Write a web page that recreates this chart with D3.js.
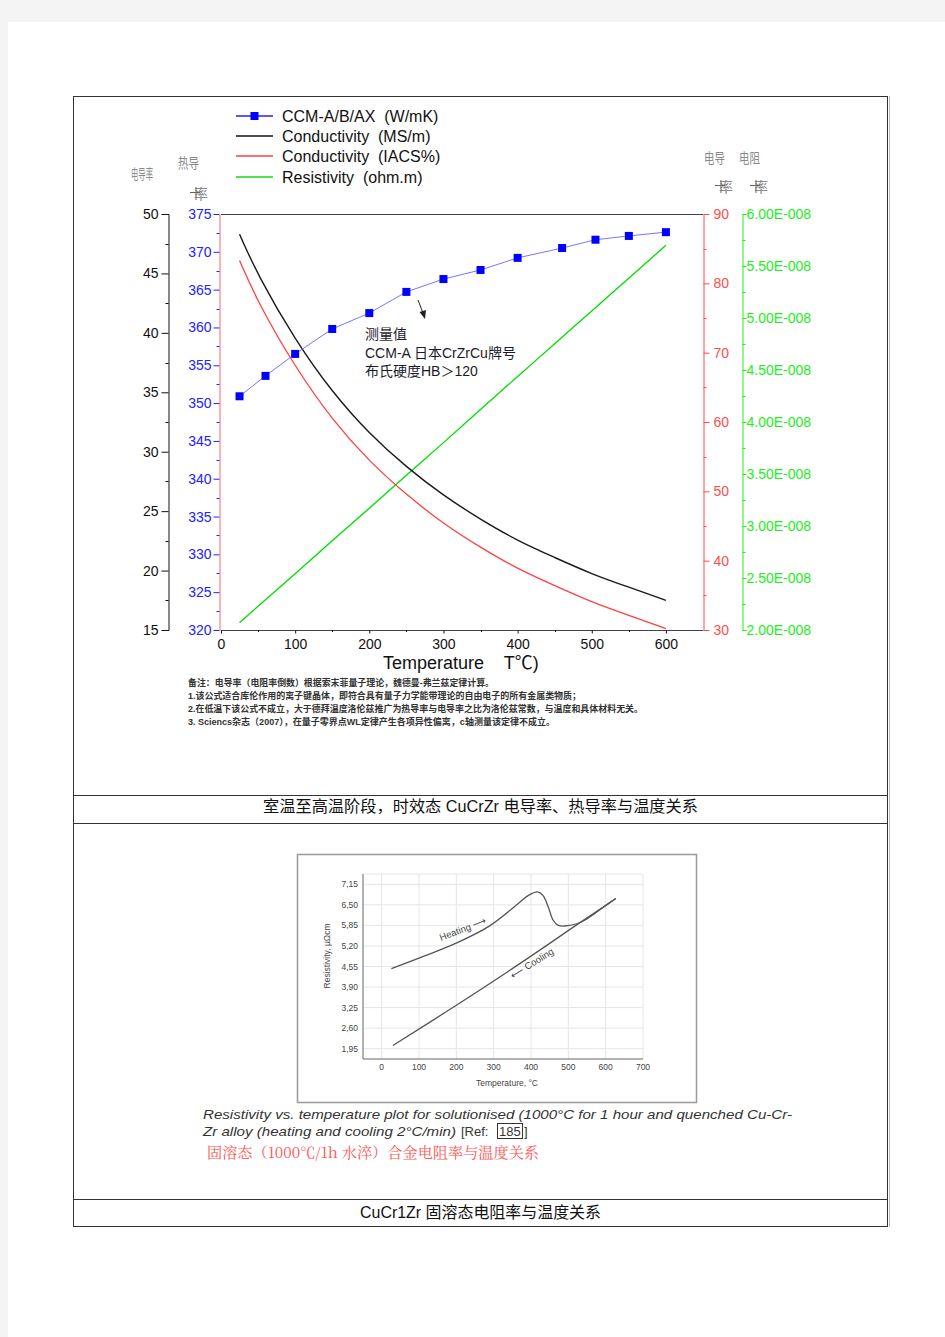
<!DOCTYPE html>
<html><head><meta charset="utf-8">
<script src="https://cdn.jsdelivr.net/npm/d3@7"></script>
<style>
body{margin:0;background:#f4f4f4;}
svg{display:block;}
text{font-family:"Liberation Sans","Noto Sans CJK SC",sans-serif;white-space:pre;}
</style></head><body>
<svg id="c" width="945" height="1337"></svg>
<script>
// ---------- DATA: main chart ----------
const temps = [25, 50, 100, 150, 200, 250, 300, 350, 400, 450, 500, 550, 600];
const condMS = [48.3, 44.8, 39.4, 35.0, 31.5, 28.7, 26.3, 24.3, 22.5, 21.1, 19.7, 18.6, 17.5];
const condIACS = [83.3, 77.2, 67.9, 60.3, 54.3, 49.5, 45.3, 41.9, 38.8, 36.4, 34.0, 32.1, 30.2];
const resist = [2.07e-8, 2.23e-8, 2.54e-8, 2.86e-8, 3.17e-8, 3.49e-8, 3.80e-8, 4.12e-8, 4.44e-8, 4.75e-8, 5.07e-8, 5.38e-8, 5.70e-8];
const ccmTemps = [25, 60, 100, 150, 200, 250, 300, 350, 400, 460, 505, 550, 600];
const ccmVals = [350.9, 353.6, 356.5, 359.8, 361.9, 364.7, 366.4, 367.6, 369.2, 370.5, 371.6, 372.1, 372.6];

const xTicks = [0, 100, 200, 300, 400, 500, 600];
const msTicks = [15, 20, 25, 30, 35, 40, 45, 50];
const wTicks = [320, 325, 330, 335, 340, 345, 350, 355, 360, 365, 370, 375];
const iacsTicks = [30, 40, 50, 60, 70, 80, 90];
const resTicks = [2e-8, 2.5e-8, 3e-8, 3.5e-8, 4e-8, 4.5e-8, 5e-8, 5.5e-8, 6e-8];

const legendLabels = ["CCM-A/B/AX  (W/mK)", "Conductivity  (MS/m)", "Conductivity  (IACS%)", "Resistivity  (ohm.m)"];
const notes = [
 "备注：电导率（电阻率倒数）根据索末菲量子理论，魏德曼-弗兰兹定律计算。",
 "1.该公式适合库伦作用的离子键晶体，即符合具有量子力学能带理论的自由电子的所有金属类物质；",
 "2.在低温下该公式不成立，大于德拜温度洛伦兹推广为热导率与电导率之比为洛伦兹常数，与温度和具体材料无关。",
 "3. Sciencs杂志（2007），在量子零界点WL定律产生各项异性偏离，c轴测量该定律不成立。"
];
const annot = ["测量值", "CCM-A 日本CrZrCu牌号", "布氏硬度HB＞120"];

// ---------- DATA: second chart ----------
const heatT = [26, 110, 198, 286, 366, 393, 417, 432, 446, 459, 472, 490, 525, 552, 596, 627];
const heatR = [4.48, 4.86, 5.28, 5.81, 6.54, 6.80, 6.91, 6.80, 6.44, 6.02, 5.86, 5.83, 5.91, 6.07, 6.44, 6.70];
const coolT = [627, 534, 375, 198, 30];
const coolR = [6.70, 5.96, 4.68, 3.31, 2.05];
const smallXTicks = [0, 100, 200, 300, 400, 500, 600, 700];
const smallYTicks = [1.95, 2.60, 3.25, 3.90, 4.55, 5.20, 5.85, 6.50, 7.15];

const svg = d3.select("#c");
// page
svg.append("rect").attr("x",8).attr("y",22).attr("width",937).attr("height",1315).attr("fill","#fff");

// table
const tb = svg.append("g").attr("stroke","#333").attr("stroke-width",1).attr("fill","none");
tb.append("rect").attr("x",73.5).attr("y",96.5).attr("width",814).attr("height",1130);
[795.5, 823.5, 1199.5].forEach(y=>tb.append("line").attr("x1",73.5).attr("x2",887.5).attr("y1",y).attr("y2",y));
svg.append("line").attr("x1",889.5).attr("x2",889.5).attr("y1",96).attr("y2",1227).attr("stroke","#bbb");

// ---------- main chart ----------
const L=221, R=703, T=214, B=630;
const x = d3.scaleLinear().domain([0,650]).range([L,R]);
const yMS = d3.scaleLinear().domain([15,50]).range([B,T]);
const yW = d3.scaleLinear().domain([320,375]).range([B,T]);
const yI = d3.scaleLinear().domain([30,90]).range([B,T]);
const yR = d3.scaleLinear().domain([2e-8,6e-8]).range([B,T]);

const g = svg.append("g");
g.append("line").attr("x1",L).attr("x2",R).attr("y1",T+0.5).attr("y2",T+0.5).attr("stroke","#444");
g.append("line").attr("x1",L).attr("x2",R).attr("y1",B+0.5).attr("y2",B+0.5).attr("stroke","#444");

function styleAxis(sel, color, fs){
  sel.selectAll("path").attr("stroke",color);
  sel.selectAll("line").attr("stroke",color);
  sel.selectAll("text").attr("fill",color).style("font-size",fs+"px").style("font-family","Liberation Sans, sans-serif");
}
function minor(scale, vals, pos, len, color, side){
  const gg = g.append("g").attr("stroke",color);
  vals.forEach(v=>{
    const yy = Math.round(scale(v))+0.5;
    gg.append("line").attr("x1",pos).attr("x2",pos+side*len).attr("y1",yy).attr("y2",yy);
  });
}
const aMS = g.append("g").attr("transform","translate(168.5,0)")
  .call(d3.axisLeft(yMS).tickValues(msTicks).tickSize(7).tickSizeOuter(5).tickPadding(3));
styleAxis(aMS,"#111",14);
minor(yMS,d3.range(17.5,50,5),168.5,3,"#111",-1);
const aW = g.append("g").attr("transform",`translate(${L-1.5},0)`)
  .call(d3.axisLeft(yW).tickValues(wTicks).tickSize(6).tickSizeOuter(0).tickPadding(2));
styleAxis(aW,"#2222ff",14);
aW.select("path").attr("stroke","#ff6666");
minor(yW,d3.range(322.5,375,5),L-1.5,3,"#2222ff",-1);
const aI = g.append("g").attr("transform",`translate(${R+0.5},0)`)
  .call(d3.axisRight(yI).tickValues(iacsTicks).tickSize(6).tickSizeOuter(0).tickPadding(4));
styleAxis(aI,"#ff4d4d",14);
minor(yI,d3.range(35,90,10),R+0.5,3,"#ff4d4d",1);
const aR = g.append("g").attr("transform","translate(742.5,0)")
  .call(d3.axisRight(yR).tickValues(resTicks).tickSize(4).tickSizeOuter(4).tickPadding(0)
  .tickFormat(v=>(v/1e-8).toFixed(2)+"E-008"));
styleAxis(aR,"#22ee22",14);
minor(yR,d3.range(2.25e-8,6e-8,0.5e-8),742.5,3,"#22ee22",1);
const aX = g.append("g").attr("transform",`translate(0,${B+0.5})`)
  .call(d3.axisBottom(x).tickValues(xTicks).tickSize(3).tickSizeOuter(0).tickPadding(6));
styleAxis(aX,"#111",14);
aX.select("path").remove();
d3.range(50,650,100).forEach(v=>g.append("line").attr("x1",Math.round(x(v))+0.5).attr("x2",Math.round(x(v))+0.5)
  .attr("y1",B).attr("y2",B+2).attr("stroke","#111"));

// series
const lineOf = (xs, ys, sy) => d3.line().x((d,i)=>x(xs[i])).y((d,i)=>sy(ys[i])).curve(d3.curveBasis)(xs);
g.append("path").attr("d",lineOf(temps,resist,yR)).attr("fill","none").attr("stroke","#00dd00").attr("stroke-width",1.3);
g.append("path").attr("d",lineOf(temps,condIACS,yI)).attr("fill","none").attr("stroke","#ff4040").attr("stroke-width",1.3);
g.append("path").attr("d",lineOf(temps,condMS,yMS)).attr("fill","none").attr("stroke","#1a1a1a").attr("stroke-width",1.4);
g.append("path").attr("d",d3.line().x((d,i)=>x(ccmTemps[i])).y((d,i)=>yW(ccmVals[i]))(ccmTemps))
  .attr("fill","none").attr("stroke","#7777ff").attr("stroke-width",1);
g.selectAll("rect.m").data(ccmTemps).join("rect").attr("class","m")
  .attr("x",(d,i)=>x(d)-4).attr("y",(d,i)=>yW(ccmVals[i])-4).attr("width",8).attr("height",8).attr("fill","#0000ff");

// legend
const legColors = ["#2222ff","#111","#ff4040","#11dd11"];
const legY = [116, 136, 156, 177];
legendLabels.forEach((t,i)=>{
  g.append("line").attr("x1",236).attr("x2",273).attr("y1",legY[i]).attr("y2",legY[i]).attr("stroke",legColors[i]).attr("stroke-width",1.3);
  if(i===0) g.append("rect").attr("x",250.5).attr("y",legY[i]-4).attr("width",8).attr("height",8).attr("fill","#0000ff");
  g.append("text").attr("x",282).attr("y",legY[i]+5.5).text(t).style("font-size","16px").attr("fill","#111");
});

// garbled axis titles
const gt = g.append("g").attr("fill","#8a8a8a").style("font-size","14px");
gt.append("text").attr("x",131).attr("y",179).attr("textLength",22).attr("lengthAdjust","spacingAndGlyphs").text("电导率");
gt.append("text").attr("x",178).attr("y",168).attr("textLength",21).attr("lengthAdjust","spacingAndGlyphs").text("热导");
[[190,199],[715,192],[750,192]].forEach(([px,py])=>{
  gt.append("text").attr("x",px+4).attr("y",py).attr("textLength",14).attr("lengthAdjust","spacingAndGlyphs").text("率");
  gt.append("line").attr("x1",px).attr("x2",px+10).attr("y1",py-6.5).attr("y2",py-6.5).attr("stroke","#666");
  gt.append("line").attr("x1",px+6).attr("x2",px+6).attr("y1",py-12).attr("y2",py+1).attr("stroke","#666");
});
gt.append("text").attr("x",704).attr("y",163).attr("textLength",21).attr("lengthAdjust","spacingAndGlyphs").text("电导");
gt.append("text").attr("x",739).attr("y",163).attr("textLength",21).attr("lengthAdjust","spacingAndGlyphs").text("电阻");

// x title
g.append("text").attr("x",383).attr("y",669).style("font-size","18px").attr("fill","#111").text("Temperature    T℃)");

// annotation
g.append("line").attr("x1",418).attr("y1",300).attr("x2",423).attr("y2",313).attr("stroke","#222");
g.append("path").attr("d","M419.5,312 L425,319 L426,310 Z").attr("fill","#222");
annot.forEach((t,i)=>g.append("text").attr("x",365).attr("y",339+i*18.5).style("font-size","14px").attr("fill","#1a1a2a").text(t));

// notes
const noteLen = [306, 393, 455, 367];
notes.forEach((t,i)=>g.append("text").attr("x",188).attr("y",686+i*13).style("font-size","9px").style("font-weight","bold")
  .attr("fill","#333").attr("textLength",noteLen[i]).attr("lengthAdjust","spacingAndGlyphs").text(t));

// caption rows
svg.append("text").attr("x",263).attr("y",812).style("font-size","16px").attr("fill","#111")
  .attr("textLength",435).attr("lengthAdjust","spacingAndGlyphs").text("室温至高温阶段，时效态 CuCrZr 电导率、热导率与温度关系");
svg.append("text").attr("x",360).attr("y",1218).style("font-size","16px").attr("fill","#111")
  .attr("textLength",241).attr("lengthAdjust","spacingAndGlyphs").text("CuCr1Zr 固溶态电阻率与温度关系");

// ---------- second chart (image) ----------
const g2 = svg.append("g");
g2.append("rect").attr("x",297.5).attr("y",854.5).attr("width",399).attr("height",248).attr("fill","#fff").attr("stroke","#999").attr("stroke-width",1.5);
const sx = d3.scaleLinear().domain([-50,700]).range([363,643]);
const sy = d3.scaleLinear().domain([1.625,7.475]).range([1059,874]);
smallXTicks.forEach(v=>g2.append("line").attr("x1",sx(v)).attr("x2",sx(v)).attr("y1",874).attr("y2",1059).attr("stroke","#e6e6e6"));
smallYTicks.forEach(v=>g2.append("line").attr("x1",363).attr("x2",643).attr("y1",sy(v)).attr("y2",sy(v)).attr("stroke","#e6e6e6"));
g2.append("line").attr("x1",363).attr("x2",643).attr("y1",874).attr("y2",874).attr("stroke","#e6e6e6");
g2.append("line").attr("x1",363).attr("x2",363).attr("y1",874).attr("y2",1059).attr("stroke","#666");
g2.append("line").attr("x1",363).attr("x2",643).attr("y1",1059).attr("y2",1059).attr("stroke","#666");
smallXTicks.forEach(v=>g2.append("text").attr("x",sx(v)).attr("y",1070).attr("text-anchor","middle")
  .style("font-size","8.5px").attr("fill","#444").text(v));
smallYTicks.forEach(v=>g2.append("text").attr("x",358).attr("y",sy(v)+3).attr("text-anchor","end")
  .style("font-size","8.5px").attr("fill","#444").text(v.toFixed(2).replace(".",",")));
g2.append("text").attr("transform","translate(330,956) rotate(-90)").attr("text-anchor","middle")
  .style("font-size","8.5px").attr("fill","#444").text("Resistivity, µΩcm");
g2.append("text").attr("x",507).attr("y",1086).attr("text-anchor","middle").style("font-size","8.5px").attr("fill","#444").text("Temperature, °C");
const sline = (xs,ys)=>d3.line().x((d,i)=>sx(xs[i])).y((d,i)=>sy(ys[i])).curve(d3.curveCatmullRom)(xs);
g2.append("path").attr("d",sline(heatT,heatR)).attr("fill","none").attr("stroke","#555").attr("stroke-width",1.3);
g2.append("path").attr("d",sline(coolT,coolR)).attr("fill","none").attr("stroke","#555").attr("stroke-width",1.3);
g2.append("text").attr("transform","translate(441,941) rotate(-21)").style("font-size","9.5px").attr("fill","#444").text("Heating ⟶");
g2.append("text").attr("transform","translate(513,979) rotate(-32)").style("font-size","9.5px").attr("fill","#444").text("⟵ Cooling");

// captions under image
svg.append("text").attr("x",203).attr("y",1119).style("font-size","13px").style("font-style","italic").attr("fill","#333")
  .attr("textLength",589).attr("lengthAdjust","spacingAndGlyphs")
  .text("Resistivity vs. temperature plot for solutionised (1000°C for 1 hour and quenched Cu-Cr-");
svg.append("text").attr("x",203).attr("y",1136).style("font-size","13px").style("font-style","italic").attr("fill","#333")
  .attr("textLength",253).attr("lengthAdjust","spacingAndGlyphs").text("Zr alloy (heating and cooling 2°C/min)");
svg.append("text").attr("x",461).attr("y",1136).style("font-size","13px").attr("fill","#333").text("[Ref:");
svg.append("text").attr("x",499).attr("y",1136).style("font-size","13px").attr("fill","#333").text("185");
svg.append("text").attr("x",524).attr("y",1136).style("font-size","13px").attr("fill","#333").text("]");
svg.append("rect").attr("x",497.5).attr("y",1123.5).attr("width",25).attr("height",15).attr("fill","none").attr("stroke","#333");
svg.append("text").attr("x",207).attr("y",1158).style("font-size","15px").style("font-family","Noto Serif CJK SC, DejaVu Serif, serif")
  .attr("fill","#ff5555").attr("textLength",332).attr("lengthAdjust","spacingAndGlyphs").text("固溶态（1000℃/1h 水淬）合金电阻率与温度关系");
</script>
</body></html>
